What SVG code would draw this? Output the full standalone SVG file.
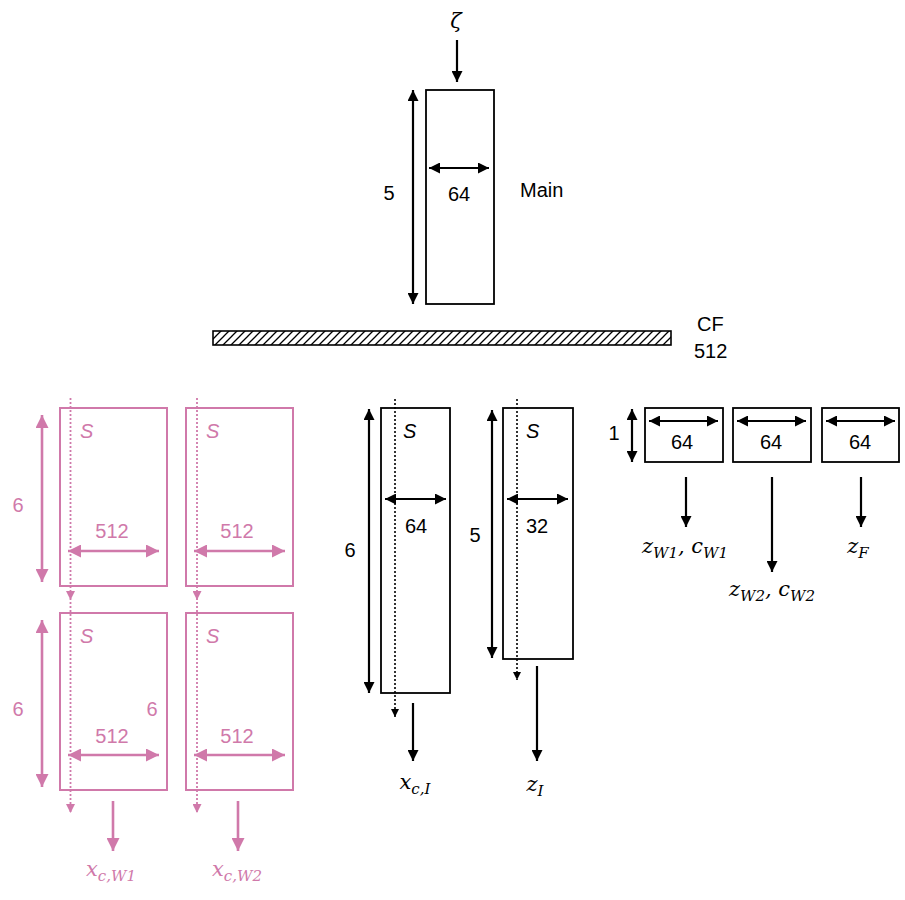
<svg xmlns="http://www.w3.org/2000/svg" width="905" height="900" viewBox="0 0 905 900">
<style>
.blk{fill:none;stroke:#000;stroke-width:1.8}
.pnk{fill:none;stroke:#D079AA;stroke-width:2}
.arr{stroke:#000;stroke-width:2.2;fill:none}
.parr{stroke:#D079AA;stroke-width:2.6;fill:none}
.dot{stroke:#000;stroke-width:1.6;stroke-dasharray:2 2;fill:none}
.pdot{stroke:#D079AA;stroke-width:1.8;stroke-dasharray:2 2;fill:none}
.num{font-family:"Liberation Sans",Arial,sans-serif;font-size:20px;fill:#000}
.pnum{font-family:"Liberation Sans",Arial,sans-serif;font-size:20px;fill:#D079AA}
.s{font-family:"Liberation Sans",Arial,sans-serif;font-size:20px;font-style:italic}
.math{font-family:"DejaVu Serif","Liberation Serif",serif;font-size:21px;font-style:italic}
.sub{font-size:15px}
</style>
<defs>
<marker id="ah" viewBox="0 0 10 10" refX="10" refY="5" markerWidth="11" markerHeight="11" markerUnits="userSpaceOnUse" orient="auto-start-reverse"><path d="M0,0 L10,5 L0,10 z" fill="#000"/></marker>
<marker id="pah" viewBox="0 0 10 10" refX="10" refY="5" markerWidth="13" markerHeight="13" markerUnits="userSpaceOnUse" orient="auto-start-reverse"><path d="M0,0 L10,5 L0,10 z" fill="#D079AA"/></marker>
<marker id="dah" viewBox="0 0 10 10" refX="10" refY="5" markerWidth="8" markerHeight="8" markerUnits="userSpaceOnUse" orient="auto"><path d="M0,0 L10,5 L0,10 z" fill="#000"/></marker>
<marker id="pdah" viewBox="0 0 10 10" refX="10" refY="5" markerWidth="9" markerHeight="9" markerUnits="userSpaceOnUse" orient="auto"><path d="M0,0 L10,5 L0,10 z" fill="#D079AA"/></marker>
<pattern id="hatch" patternUnits="userSpaceOnUse" width="8" height="8"><path d="M-1,9 L9,-1 M-3,3 L3,-3 M5,11 L11,5" stroke="#000" stroke-width="1.3"/></pattern>
</defs>

<g id="main">
<rect x="426" y="90" width="68" height="214" class="blk"/>
<text x="456" y="28" class="math" font-size="23" text-anchor="middle">ζ</text>
<text x="389" y="200" class="num" text-anchor="middle">5</text>
<text x="459" y="201" class="num" text-anchor="middle">64</text>
<text x="520" y="197" class="num">Main</text>
</g>

<g id="cf">
<rect x="213" y="331" width="458" height="14" fill="url(#hatch)" stroke="#000" stroke-width="1.6"/>
<text x="697" y="331" class="num">CF</text>
<text x="694" y="358" class="num">512</text>
</g>

<g id="w1a">
<rect x="60" y="408" width="107" height="178" class="pnk"/>
<text x="80" y="438" class="s" fill="#D079AA">S</text>
<text x="18" y="512" class="pnum" text-anchor="middle">6</text>
<text x="112" y="538" class="pnum" text-anchor="middle">512</text>
</g>
<g id="w2a">
<rect x="186" y="408" width="107" height="178" class="pnk"/>
<text x="206" y="438" class="s" fill="#D079AA">S</text>
<text x="237" y="538" class="pnum" text-anchor="middle">512</text>
</g>
<g id="w1b">
<rect x="60" y="613" width="107" height="177" class="pnk"/>
<text x="80" y="643" class="s" fill="#D079AA">S</text>
<text x="18" y="716" class="pnum" text-anchor="middle">6</text>
<text x="152" y="716" class="pnum" text-anchor="middle">6</text>
<text x="112" y="743" class="pnum" text-anchor="middle">512</text>
<text x="111" y="876" class="math" fill="#D079AA" text-anchor="middle">x<tspan class="sub" dy="5">c,W1</tspan></text>
</g>
<g id="w2b">
<rect x="186" y="613" width="107" height="177" class="pnk"/>
<text x="206" y="643" class="s" fill="#D079AA">S</text>
<text x="237" y="743" class="pnum" text-anchor="middle">512</text>
<text x="237" y="876" class="math" fill="#D079AA" text-anchor="middle">x<tspan class="sub" dy="5">c,W2</tspan></text>
</g>

<g id="ib">
<rect x="381" y="408" width="69" height="285" class="blk"/>
<text x="403" y="438" class="s">S</text>
<text x="350" y="557" class="num" text-anchor="middle">6</text>
<text x="416" y="533" class="num" text-anchor="middle">64</text>
<text x="415" y="789" class="math" text-anchor="middle">x<tspan class="sub" dy="5">c,I</tspan></text>
</g>
<g id="zb">
<rect x="503" y="408" width="70" height="251" class="blk"/>
<text x="526" y="438" class="s">S</text>
<text x="475" y="542" class="num" text-anchor="middle">5</text>
<text x="537" y="533" class="num" text-anchor="middle">32</text>
<text x="535" y="791" class="math" text-anchor="middle">z<tspan class="sub" dy="5">I</tspan></text>
</g>

<g id="f1">
<rect x="645" y="408" width="78" height="54" class="blk"/>
<text x="614" y="440" class="num" text-anchor="middle">1</text>
<text x="682" y="449" class="num" text-anchor="middle">64</text>
<text x="685" y="553" class="math" text-anchor="middle">z<tspan class="sub" dy="5">W1</tspan><tspan dy="-5">, c</tspan><tspan class="sub" dy="5">W1</tspan></text>
</g>
<g id="f2">
<rect x="733" y="408" width="78" height="54" class="blk"/>
<text x="771" y="449" class="num" text-anchor="middle">64</text>
<text x="772" y="596" class="math" text-anchor="middle">z<tspan class="sub" dy="5">W2</tspan><tspan dy="-5">, c</tspan><tspan class="sub" dy="5">W2</tspan></text>
</g>
<g id="f3">
<rect x="822" y="408" width="77" height="54" class="blk"/>
<text x="860" y="449" class="num" text-anchor="middle">64</text>
<text x="858" y="553" class="math" text-anchor="middle">z<tspan class="sub" dy="5">F</tspan></text>
</g>

<g id="connectors">
<line x1="457" y1="40" x2="457" y2="82" class="arr" marker-end="url(#ah)"/>
<line x1="413" y1="90" x2="413" y2="304" class="arr" marker-start="url(#ah)" marker-end="url(#ah)"/>
<line x1="429" y1="168" x2="489" y2="168" class="arr" marker-start="url(#ah)" marker-end="url(#ah)"/>

<line x1="42" y1="415" x2="42" y2="582" class="parr" marker-start="url(#pah)" marker-end="url(#pah)"/>
<line x1="68" y1="551" x2="159" y2="551" class="parr" marker-start="url(#pah)" marker-end="url(#pah)"/>
<line x1="194" y1="551" x2="285" y2="551" class="parr" marker-start="url(#pah)" marker-end="url(#pah)"/>
<line x1="70.5" y1="398" x2="70.5" y2="600" class="pdot" marker-end="url(#pdah)"/>
<line x1="197" y1="398" x2="197" y2="600" class="pdot" marker-end="url(#pdah)"/>
<line x1="42" y1="620" x2="42" y2="787" class="parr" marker-start="url(#pah)" marker-end="url(#pah)"/>
<line x1="68" y1="755" x2="159" y2="755" class="parr" marker-start="url(#pah)" marker-end="url(#pah)"/>
<line x1="194" y1="755" x2="285" y2="755" class="parr" marker-start="url(#pah)" marker-end="url(#pah)"/>
<line x1="70.5" y1="602" x2="70.5" y2="813" class="pdot" marker-end="url(#pdah)"/>
<line x1="197" y1="602" x2="197" y2="813" class="pdot" marker-end="url(#pdah)"/>
<line x1="113" y1="801" x2="113" y2="851" class="parr" marker-end="url(#pah)"/>
<line x1="238" y1="801" x2="238" y2="851" class="parr" marker-end="url(#pah)"/>

<line x1="369" y1="409" x2="369" y2="693" class="arr" marker-start="url(#ah)" marker-end="url(#ah)"/>
<line x1="385" y1="499" x2="446" y2="499" class="arr" marker-start="url(#ah)" marker-end="url(#ah)"/>
<line x1="395" y1="399" x2="395" y2="717" class="dot" marker-end="url(#dah)"/>
<line x1="413" y1="703" x2="413" y2="761" class="arr" marker-end="url(#ah)"/>

<line x1="492" y1="410" x2="492" y2="658" class="arr" marker-start="url(#ah)" marker-end="url(#ah)"/>
<line x1="507" y1="499" x2="568" y2="499" class="arr" marker-start="url(#ah)" marker-end="url(#ah)"/>
<line x1="517" y1="399" x2="517" y2="680" class="dot" marker-end="url(#dah)"/>
<line x1="537" y1="666" x2="537" y2="761" class="arr" marker-end="url(#ah)"/>

<line x1="632" y1="409" x2="632" y2="462" class="arr" marker-start="url(#ah)" marker-end="url(#ah)"/>
<line x1="649" y1="421" x2="718" y2="421" class="arr" marker-start="url(#ah)" marker-end="url(#ah)"/>
<line x1="737" y1="421" x2="806" y2="421" class="arr" marker-start="url(#ah)" marker-end="url(#ah)"/>
<line x1="826" y1="421" x2="895" y2="421" class="arr" marker-start="url(#ah)" marker-end="url(#ah)"/>
<line x1="686" y1="477" x2="686" y2="527" class="arr" marker-end="url(#ah)"/>
<line x1="772" y1="477" x2="772" y2="572" class="arr" marker-end="url(#ah)"/>
<line x1="861" y1="477" x2="861" y2="527" class="arr" marker-end="url(#ah)"/>
</g>
</svg>
